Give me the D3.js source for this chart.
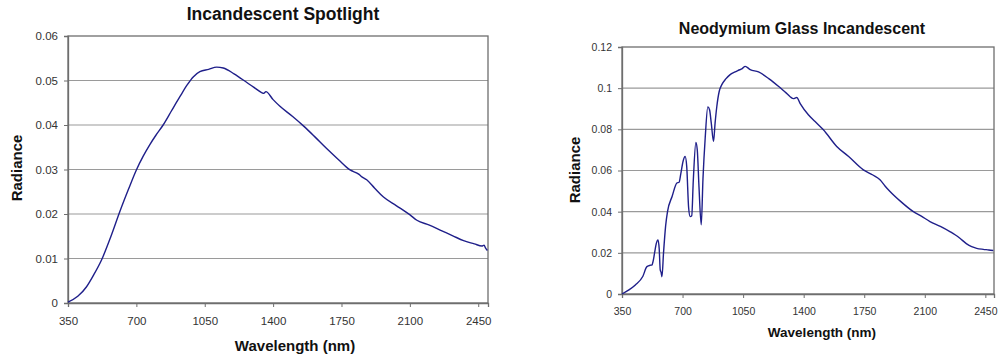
<!DOCTYPE html>
<html>
<head>
<meta charset="utf-8">
<script src="https://cdn.jsdelivr.net/npm/d3@7"></script>
<style>
  body { margin: 0; background: #fff; }
  svg { display: block; font-family: Arial, "Liberation Sans", sans-serif; }
</style>
</head>
<body>
<svg id="chart" width="1000" height="358"></svg>
<script>
// Incandescent Spotlight spectrum (wavelength nm, radiance)
var spotWave = [350, 400, 444, 480, 521, 570, 615, 660, 700, 735, 769, 800, 837, 880, 922, 960, 991, 1025, 1070, 1111, 1145, 1200, 1264, 1300, 1341, 1352, 1363, 1400, 1435, 1500, 1555, 1610, 1674, 1735, 1794, 1840, 1850, 1879, 1920, 1965, 2030, 2101, 2136, 2200, 2255, 2320, 2375, 2430, 2469, 2480, 2487, 2497];
var spotRad = [0.0002, 0.0015, 0.0036, 0.0062, 0.0096, 0.0150, 0.0205, 0.0256, 0.0299, 0.0330, 0.0356, 0.0377, 0.0400, 0.0432, 0.0463, 0.0490, 0.0508, 0.0520, 0.0525, 0.0530, 0.0528, 0.0515, 0.0496, 0.0485, 0.0473, 0.0471, 0.0475, 0.0457, 0.0442, 0.0419, 0.0398, 0.0375, 0.0347, 0.0322, 0.0299, 0.0289, 0.0285, 0.0277, 0.0258, 0.0238, 0.0219, 0.0198, 0.0186, 0.0175, 0.0164, 0.0151, 0.0140, 0.0133, 0.0128, 0.0130, 0.0124, 0.0118];

// Neodymium Glass Incandescent spectrum
var neoWave = [350, 390, 427, 470, 494, 515, 523, 530, 538, 548, 558, 565, 571, 576, 581, 590, 602, 613, 640, 667, 680, 690, 703, 715, 724, 735, 744, 753, 762, 777, 785, 795, 808, 818, 831, 846, 856, 866, 879, 888, 898, 912, 927, 950, 975, 1000, 1023, 1045, 1062, 1091, 1139, 1200, 1254, 1300, 1341, 1350, 1360, 1380, 1427, 1466, 1514, 1591, 1660, 1745, 1800, 1841, 1870, 1899, 1960, 2034, 2080, 2130, 2190, 2245, 2275, 2303, 2340, 2371, 2400, 2438, 2470, 2496];
var neoRad = [0.0000, 0.0020, 0.0044, 0.0085, 0.0133, 0.0140, 0.0141, 0.0160, 0.0198, 0.0245, 0.0263, 0.0220, 0.0117, 0.0105, 0.0084, 0.0200, 0.0330, 0.0400, 0.0475, 0.0539, 0.0543, 0.0585, 0.0645, 0.0668, 0.0620, 0.0420, 0.0376, 0.0380, 0.0550, 0.0736, 0.0700, 0.0520, 0.0336, 0.0560, 0.0760, 0.0909, 0.0895, 0.0830, 0.0741, 0.0830, 0.0911, 0.0985, 0.1017, 0.1045, 0.1066, 0.1078, 0.1087, 0.1095, 0.1106, 0.1090, 0.1079, 0.1045, 0.1009, 0.0976, 0.0949, 0.0952, 0.0955, 0.0925, 0.0871, 0.0838, 0.0798, 0.0717, 0.0668, 0.0603, 0.0578, 0.0555, 0.0525, 0.0498, 0.0450, 0.0400, 0.0378, 0.0352, 0.0328, 0.0303, 0.0288, 0.0271, 0.0245, 0.0230, 0.0222, 0.0217, 0.0214, 0.0211];

var xTicks = [350, 700, 1050, 1400, 1750, 2100, 2450];
var spotYTicks = [0, 0.01, 0.02, 0.03, 0.04, 0.05, 0.06];
var neoYTicks = [0, 0.02, 0.04, 0.06, 0.08, 0.1, 0.12];

var svg = d3.select("#chart");
var lineColor = "#1f1f8a";

drawPanel({
	title: "Incandescent Spotlight", titleX: 283, titleY: 20, titleSize: 17.5,
	left: 68, right: 488, top: 36, bottom: 303,
	yMax: 0.06, yTicks: spotYTicks, wave: spotWave, rad: spotRad,
	tickSize: 11.5, xLabelX: 295, xLabelY: 351, xLabelSize: 15,
	yLabelX: 22, yLabelY: 168, yLabelSize: 15
});

drawPanel({
	title: "Neodymium Glass Incandescent", titleX: 802, titleY: 34, titleSize: 16,
	left: 622, right: 994, top: 47, bottom: 294,
	yMax: 0.12, yTicks: neoYTicks, wave: neoWave, rad: neoRad,
	tickSize: 10.5, xLabelX: 822, xLabelY: 337, xLabelSize: 13.5,
	yLabelX: 580, yLabelY: 170, yLabelSize: 15
});

function drawPanel(p) {
	var x = d3.scaleLinear().domain([350, 2500]).range([p.left, p.right]);
	var y = d3.scaleLinear().domain([0, p.yMax]).range([p.bottom, p.top]);
	var g = svg.append("g");

	// gridlines
	g.selectAll(".grid")
		.data(p.yTicks.filter(function(d){ return d > 0 && d < p.yMax; }))
		.enter().append("line")
		.attr("x1", p.left).attr("x2", p.right)
		.attr("y1", function(d){ return y(d); })
		.attr("y2", function(d){ return y(d); })
		.attr("stroke", "#9a9a9a")
		.attr("stroke-width", 1.2);

	// plot frame
	g.append("rect")
		.attr("x", p.left).attr("y", p.top)
		.attr("width", p.right - p.left).attr("height", p.bottom - p.top)
		.attr("fill", "none")
		.attr("stroke", "#6e6e6e")
		.attr("stroke-width", 1.3);

	var fmt = function(d){ return d === 0 ? "0" : String(+d.toFixed(2)); };

	var yAxis = g.append("g")
		.attr("transform", "translate(" + p.left + ",0)")
		.call(d3.axisLeft(y).tickValues(p.yTicks).tickFormat(fmt).tickSize(4).tickPadding(6));
	var xAxis = g.append("g")
		.attr("transform", "translate(0," + p.bottom + ")")
		.call(d3.axisBottom(x).tickValues(xTicks).tickFormat(d3.format("d")).tickSize(4).tickPadding(10));

	[yAxis, xAxis].forEach(function(a){
		a.select(".domain").attr("stroke", "#6e6e6e").attr("stroke-width", 1.3);
		a.selectAll(".tick line").attr("stroke", "#6e6e6e");
		a.selectAll(".tick text")
			.attr("fill", "#333")
			.attr("font-size", p.tickSize)
			.attr("font-family", "Arial, 'Liberation Sans', sans-serif");
	});

	// spectrum curve
	var pts = p.wave.map(function(w, i){ return [w, p.rad[i]]; });
	g.append("path")
		.datum(pts)
		.attr("fill", "none")
		.attr("stroke", lineColor)
		.attr("stroke-width", 1.4)
		.attr("d", d3.line()
			.x(function(d){ return x(d[0]); })
			.y(function(d){ return y(d[1]); })
			.curve(d3.curveMonotoneX));

	// titles and labels
	g.append("text")
		.attr("x", p.titleX).attr("y", p.titleY)
		.attr("text-anchor", "middle")
		.attr("font-weight", "bold")
		.attr("font-size", p.titleSize)
		.attr("fill", "#111")
		.text(p.title);

	g.append("text")
		.attr("x", p.xLabelX).attr("y", p.xLabelY)
		.attr("text-anchor", "middle")
		.attr("font-weight", "bold")
		.attr("font-size", p.xLabelSize)
		.attr("fill", "#111")
		.text("Wavelength (nm)");

	g.append("text")
		.attr("transform", "translate(" + p.yLabelX + "," + p.yLabelY + ") rotate(-90)")
		.attr("text-anchor", "middle")
		.attr("font-weight", "bold")
		.attr("font-size", p.yLabelSize)
		.attr("fill", "#111")
		.text("Radiance");
}
</script>
</body>
</html>
